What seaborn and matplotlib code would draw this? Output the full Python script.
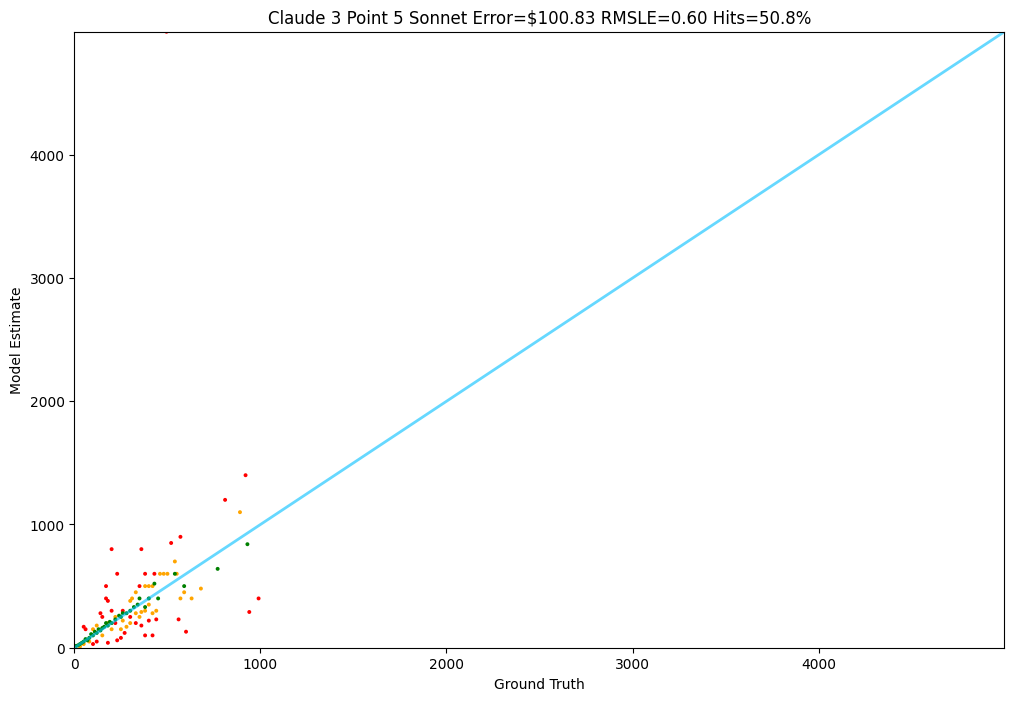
import pandas as pd
import matplotlib.pyplot as plt
import seaborn as sns

title = "Claude 3 Point 5 Sonnet Error=\\$100.83 RMSLE=0.60 Hits=50.8%"

red_truth = [920, 810, 570, 520, 200, 360, 230, 380, 430, 170, 350, 990, 940, 600, 560, 440, 420, 380,
             170, 180, 200, 140, 150, 220, 270, 250, 230, 50, 60, 120, 180, 100, 300, 330, 360, 400, 260, 495]
red_guess = [1400, 1200, 900, 850, 800, 800, 600, 600, 600, 500, 500, 400, 290, 130, 230, 230, 100, 100,
             400, 380, 300, 280, 250, 200, 120, 80, 60, 170, 150, 50, 40, 30, 250, 200, 180, 220, 300, 4999]
orange_truth = [890, 540, 460, 480, 500, 550, 680, 590, 630, 570, 380, 400, 420, 310, 330, 300, 400, 440,
                420, 380, 350, 300, 250, 200, 150, 100, 120, 80, 50, 30, 180, 220, 260, 280, 330, 360]
orange_guess = [1100, 700, 600, 600, 600, 600, 480, 450, 400, 400, 500, 500, 500, 400, 450, 380, 350, 300,
                280, 300, 250, 200, 150, 150, 100, 150, 180, 50, 30, 10, 200, 250, 220, 170, 280, 290]
green_truth = [930, 770, 590, 540, 430, 450, 400, 380, 350, 340, 300, 280, 250, 240, 220, 200, 180, 170, 150,
               140, 130, 120, 100, 90, 80, 70, 60, 50, 40, 30, 20, 10, 110, 160, 190, 260, 320]
green_guess = [840, 640, 500, 600, 520, 400, 400, 330, 400, 350, 300, 280, 250, 260, 230, 200, 180, 200, 160,
               140, 150, 120, 100, 110, 80, 60, 70, 50, 40, 30, 20, 15, 130, 170, 210, 280, 330]

df = pd.DataFrame({
    "truth": red_truth + orange_truth + green_truth,
    "guess": red_guess + orange_guess + green_guess,
    "color": ["red"] * len(red_truth) + ["orange"] * len(orange_truth) + ["green"] * len(green_truth),
})

max_val = max(df["truth"].max(), df["guess"].max())

plt.figure(figsize=(12, 8))
plt.plot([0, max_val], [0, max_val], color="deepskyblue", lw=2, alpha=0.6)
sns.scatterplot(data=df, x="truth", y="guess", hue="color",
                palette={"red": "red", "orange": "orange", "green": "green"},
                s=8, linewidth=0, legend=False)
plt.xlabel("Ground Truth")
plt.ylabel("Model Estimate")
plt.xlim(0, max_val)
plt.ylim(0, max_val)
plt.title(title)
plt.savefig("out.png", dpi=100, bbox_inches="tight")
